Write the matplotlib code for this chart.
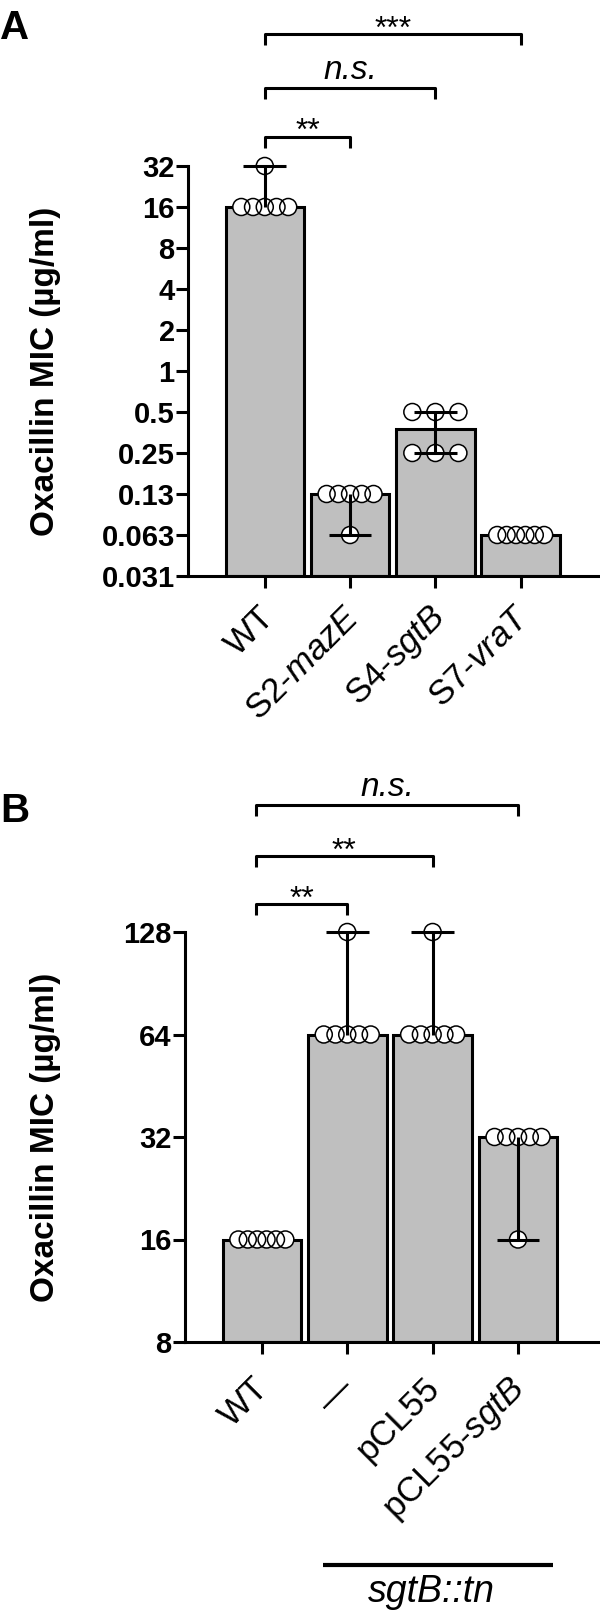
import numpy as np
import matplotlib
matplotlib.use('Agg')
import matplotlib.pyplot as plt
from matplotlib.transforms import blended_transform_factory, ScaledTranslation
from matplotlib.ticker import NullLocator

plt.rcParams['font.family'] = ['Liberation Sans', 'DejaVu Sans']
plt.rcParams['mathtext.fontset'] = 'custom'
plt.rcParams['mathtext.rm'] = 'Liberation Sans'
plt.rcParams['mathtext.it'] = 'Liberation Sans:italic'

# ---------------- data (MIC, ug/ml, one value per replicate) ----------------
labelsA = ['WT', r'S2-$\mathit{mazE}$', r'S4-$\mathit{sgtB}$', r'S7-$\mathit{vraT}$']
wtA = [16, 16, 16, 16, 16, 32]
mazE = [0.125, 0.125, 0.125, 0.125, 0.125, 0.0625]
sgtB = [0.5, 0.5, 0.5, 0.25, 0.25, 0.25]
vraT = [0.0625, 0.0625, 0.0625, 0.0625, 0.0625, 0.0625]
ticksA = [32, 16, 8, 4, 2, 1, 0.5, 0.25, 0.125, 0.0625, 0.03125]
ticklabelsA = ['32', '16', '8', '4', '2', '1', '0.5', '0.25', '0.13', '0.063', '0.031']
# (group i, group j, text)
sigA = [(0, 1, '**'), (0, 2, 'n.s.'), (0, 3, '***')]

labelsB = ['WT', '\u2014', 'pCL55', r'pCL55-$\mathit{sgtB}$']
wtB = [16, 16, 16, 16, 16, 16]
tn = [64, 64, 64, 64, 64, 128]
tn_pcl = [64, 64, 64, 64, 64, 128]
tn_comp = [32, 32, 32, 32, 32, 16]
ticksB = [128, 64, 32, 16, 8]
ticklabelsB = ['128', '64', '32', '16', '8']
sigB = [(0, 1, '**'), (0, 2, '**'), (0, 3, 'n.s.')]

BAR_GREY = '#bfbfbf'
LW = 2.2


def spread(vals):
    # spread replicates with equal value side by side (like a GraphPad scatter)
    vals = np.asarray(vals, dtype=float)
    off = np.zeros(len(vals))
    for v in np.unique(vals):
        idx = np.where(vals == v)[0]
        n = len(idx)
        if n > 1:
            step = min(0.27, 0.55 / (n - 1))
            off[idx] = (np.arange(n) - (n - 1) / 2) * step
    return off


def draw_panel(ax, groups, labels, ticks, ticklabels, xlim, shift):
    ymin, ymax = min(ticks), max(ticks)
    ax.set_yscale('log', base=2)
    ax.set_ylim(ymin, ymax)
    ax.set_xlim(*xlim)
    x = np.arange(len(groups))
    med = np.array([np.median(g) for g in groups])
    ax.bar(x, med - ymin, bottom=ymin, width=0.92, color=BAR_GREY,
           edgecolor='k', linewidth=LW, zorder=1)
    for i, g in enumerate(groups):
        xs = i + spread(g)
        ax.scatter(xs, g, s=150, facecolor='white', edgecolor='none', zorder=3, clip_on=False)
        ax.scatter(xs, g, s=150, facecolor='none', edgecolor='k', linewidth=1.1, zorder=4, clip_on=False)
        lo, hi = min(g), max(g)
        # median with range
        if hi > lo:
            ax.vlines(i, lo, hi, color='k', lw=LW, zorder=5, clip_on=False)
        for end in (lo, hi):
            if end != med[i]:
                ax.hlines(end, i - 0.25, i + 0.25, color='k', lw=LW, zorder=5, clip_on=False)

    ax.yaxis.set_minor_locator(NullLocator())
    ax.tick_params(axis='y', width=LW, length=8.6, pad=1, labelsize=21)
    ax.tick_params(axis='x', width=LW, length=8.6, pad=9, labelsize=25)
    ax.set_yticks(ticks)
    ax.set_yticklabels(ticklabels, fontsize=21, fontweight='bold')
    ax.set_xticks(x)
    ax.set_xticklabels(labels, fontsize=25, rotation=45, ha='right', va='top',
                       rotation_mode='anchor')
    off = ScaledTranslation(shift[0] / 100, shift[1] / 100, ax.figure.dpi_scale_trans)
    for lab in ax.get_xticklabels():
        lab.set_transform(lab.get_transform() + off)
    for s in ['top', 'right']:
        ax.spines[s].set_visible(False)
    for s in ['left', 'bottom']:
        ax.spines[s].set_linewidth(LW)
    ax.set_ylabel('Oxacillin MIC (\u00b5g/ml)', fontsize=24, fontweight='bold')


def draw_sig(ax, sig, levels, x0shift=0.0):
    trans = blended_transform_factory(ax.transData, ax.transAxes)
    for (i, j, txt), yb in zip(sig, levels):
        x0 = i + x0shift
        ax.plot([x0, x0, j, j], [yb - 0.027, yb, yb, yb - 0.027], color='k', lw=LW,
                transform=trans, clip_on=False, solid_capstyle='butt')
        if txt == 'n.s.':
            ax.annotate(txt, xy=((x0 + j) / 2, yb), xycoords=trans, xytext=(0, 6.5),
                        textcoords='offset points', ha='center', va='baseline',
                        fontsize=24, style='italic')
        else:
            ax.annotate(txt, xy=((x0 + j) / 2, yb), xycoords=trans, xytext=(0, -2.5),
                        textcoords='offset points', ha='center', va='baseline',
                        fontsize=23)


fig = plt.figure(figsize=(6, 16.16), dpi=100)

# ---------------- panel A ----------------
axA = fig.add_axes([188 / 600, 1 - 576 / 1616, 412 / 600, 410 / 1616])
draw_panel(axA, [wtA, mazE, sgtB, vraT], labelsA, ticksA, ticklabelsA, (-0.9, 3.93), (-7, 0))
axA.yaxis.set_label_coords(-0.308, 0.5)
draw_sig(axA, sigA, [1.071, 1.190, 1.322])
fig.text(0.0, 1 - 9 / 1616, 'A', fontsize=29, fontweight='bold', va='top', ha='left')

# ---------------- panel B ----------------
axB = fig.add_axes([185 / 600, 1 - 1342 / 1616, 415 / 600, 410 / 1616])
draw_panel(axB, [wtB, tn, tn_pcl, tn_comp], labelsB, ticksB, ticklabelsB, (-0.9, 3.96), (-10, -5))
axB.yaxis.set_label_coords(-0.299, 0.5)
draw_sig(axB, sigB, [1.068, 1.185, 1.310], x0shift=-0.07)
fig.text(0.0, 1 - 792 / 1616, 'B', fontsize=29, fontweight='bold', va='top', ha='left')

# strain background bracket under the tick labels
transB = blended_transform_factory(axB.transData, axB.transAxes)
axB.plot([0.72, 3.41], [-0.544, -0.544], color='k', lw=3, transform=transB,
         clip_on=False, solid_capstyle='butt')
axB.text(1.98, -0.566, 'sgtB::tn', transform=transB, ha='center', va='top',
         fontsize=27, style='italic')

fig.savefig('out.png', dpi=100)
